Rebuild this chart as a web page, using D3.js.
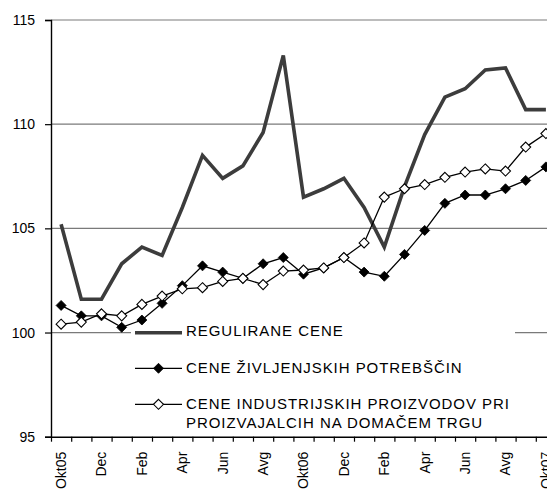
<!DOCTYPE html>
<html>
<head>
<meta charset="utf-8">
<script src="https://cdn.jsdelivr.net/npm/d3@7"></script>
<style>
  html, body { margin: 0; padding: 0; background: #fff; }
  svg { display: block; }
  text { font-family: "Liberation Sans", Arial, sans-serif; }
</style>
</head>
<body>
<svg id="chart" width="547" height="491"></svg>
<script>
const months = ["Okt05","Nov","Dec","Jan","Feb","Mar","Apr","Maj","Jun","Jul","Avg","Sep",
                "Okt06","Nov","Dec","Jan","Feb","Mar","Apr","Maj","Jun","Jul","Avg","Sep","Okt07"];
const regulirane = [105.2,101.6,101.6,103.3,104.1,103.7,106.0,108.5,107.4,108.0,109.6,113.3,
                    106.5,106.9,107.4,106.0,104.1,107.0,109.5,111.3,111.7,112.6,112.7,110.7,110.7];
const zivljenjske = [101.3,100.8,100.8,100.25,100.6,101.4,102.25,103.2,102.9,102.6,103.3,103.6,
                     102.8,103.1,103.6,102.9,102.7,103.75,104.9,106.2,106.6,106.6,106.9,107.3,107.95];
const industrijske = [100.4,100.5,100.9,100.8,101.35,101.75,102.1,102.15,102.45,102.6,102.3,102.95,
                      103.0,103.1,103.6,104.3,106.5,106.9,107.1,107.45,107.7,107.85,107.75,108.9,109.55];
const yTicks = [95,100,105,110,115];
const legendLabels = ["REGULIRANE CENE","CENE ŽIVLJENJSKIH POTREBŠČIN",
                      ["CENE INDUSTRIJSKIH PROIZVODOV PRI","PROIZVAJALCIH NA DOMAČEM TRGU"]];

(function () {
const svg = d3.select("#chart");
const W = 547;
const mLeft = 51, mTop = 20, mBottom = 436.7;
const band = 20.2;
const x = d3.scaleLinear().domain([0, months.length]).range([mLeft, mLeft + months.length * band]);
const y = d3.scaleLinear().domain([95, 115]).range([mBottom, mTop]);
const cx = i => x(i + 0.5);

// gridlines
svg.append("g").selectAll("line").data(yTicks.filter(v => v > 95)).join("line")
  .attr("x1", mLeft).attr("x2", W)
  .attr("y1", d => y(d)).attr("y2", d => y(d))
  .attr("stroke", "#7a7a7a").attr("stroke-width", 1.2);

// legend background (drawn under the series)
const lg = svg.append("g");
lg.append("rect").attr("x", 131).attr("y", 330.5).attr("width", 384).attr("height", 104).attr("fill", "#fff");

// lines
const line = d3.line().x((d, i) => cx(i)).y(d => y(d));
svg.append("path").datum(regulirane).attr("d", line)
  .attr("fill", "none").attr("stroke", "#3c3c3c").attr("stroke-width", 3.6)
  .attr("stroke-linejoin", "miter");
svg.append("path").datum(zivljenjske).attr("d", line)
  .attr("fill", "none").attr("stroke", "#000").attr("stroke-width", 1.3);
svg.append("path").datum(industrijske).attr("d", line)
  .attr("fill", "none").attr("stroke", "#000").attr("stroke-width", 1.3);

const diamond = "M0,-5L5,0L0,5L-5,0Z";
svg.append("g").selectAll("path").data(zivljenjske).join("path")
  .attr("d", diamond).attr("transform", (d, i) => `translate(${cx(i)},${y(d)})`)
  .attr("fill", "#000").attr("stroke", "#000").attr("stroke-width", 0.8);
svg.append("g").selectAll("path").data(industrijske).join("path")
  .attr("d", diamond).attr("transform", (d, i) => `translate(${cx(i)},${y(d)})`)
  .attr("fill", "#fff").attr("stroke", "#000").attr("stroke-width", 1.1);

// legend entries
const lg2 = svg.append("g");
const ly = [332.7, 368.3, 404.3];
const lx1 = 135, lx2 = 182;
lg2.append("line").attr("x1", lx1).attr("x2", lx2).attr("y1", ly[0]).attr("y2", ly[0])
  .attr("stroke", "#3c3c3c").attr("stroke-width", 3.6);
[1, 2].forEach(k => {
  lg2.append("line").attr("x1", lx1).attr("x2", lx2).attr("y1", ly[k]).attr("y2", ly[k])
    .attr("stroke", "#000").attr("stroke-width", 1.3);
  lg2.append("path").attr("d", diamond).attr("transform", `translate(${(lx1 + lx2) / 2},${ly[k]})`)
    .attr("fill", k === 1 ? "#000" : "#fff").attr("stroke", "#000").attr("stroke-width", k === 1 ? 0.8 : 1.1);
});
const tstyle = s => s.attr("font-size", 15).attr("letter-spacing", "0.95px").attr("fill", "#000");
lg2.append("text").attr("x", 186).attr("y", 335.7).text(legendLabels[0]).call(tstyle);
lg2.append("text").attr("x", 186).attr("y", 373.3).text(legendLabels[1]).call(tstyle);
lg2.append("text").attr("x", 186).attr("y", 408.8).text(legendLabels[2][0]).call(tstyle);
lg2.append("text").attr("x", 186).attr("y", 427.8).text(legendLabels[2][1]).call(tstyle);

// y axis
const yAxis = svg.append("g").attr("transform", `translate(${mLeft},0)`)
  .call(d3.axisLeft(y).tickValues(yTicks).tickSize(6).tickPadding(10).tickFormat(d3.format("d")));
yAxis.selectAll("text").attr("font-size", 14).attr("fill", "#000")
  .attr("font-family", "'Liberation Sans', Arial, sans-serif");
yAxis.selectAll("line").attr("stroke", "#000").attr("stroke-width", 1.2);
yAxis.select(".domain").attr("stroke", "#000").attr("stroke-width", 1.4);

// x axis
const xAxis = svg.append("g").attr("transform", `translate(0,${mBottom})`)
  .call(d3.axisBottom(x).tickValues(d3.range(months.length + 1)).tickSize(5).tickSizeOuter(0).tickFormat(""));
xAxis.selectAll("line").attr("stroke", "#000").attr("stroke-width", 1.2);
xAxis.select(".domain").attr("stroke", "#000").attr("stroke-width", 1.4);

svg.append("g").selectAll("text").data(months.map((m, i) => ({ m, i })).filter(d => d.i % 2 === 0))
  .join("text")
  .attr("transform", d => `translate(${cx(d.i)},${mBottom + 15}) rotate(-90)`)
  .attr("text-anchor", "end").attr("dy", "0.35em")
  .attr("font-size", 14).attr("fill", "#000")
  .text(d => d.m);
})();
</script>
</body>
</html>
